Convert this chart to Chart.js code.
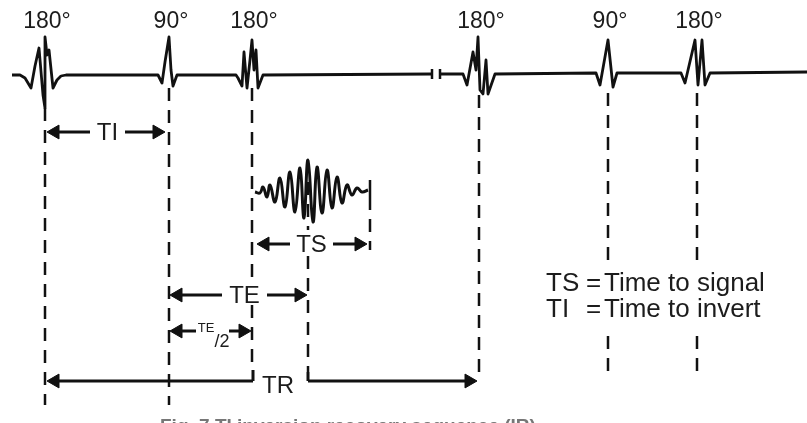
<!DOCTYPE html>
<html>
<head>
<meta charset="utf-8">
<script src="https://cdn.jsdelivr.net/npm/chart.js@4.4.1/dist/chart.umd.min.js"></script>
<style>
  html, body { margin: 0; background: #fff; }
  #wrap { width: 807px; height: 423px; }
</style>
</head>
<body>
<div id="wrap"><canvas id="myChart"></canvas></div>
<script>
// time axis runs 0..807, vertical axis 0..423 (top down)
const pulseTimes = [45, 169, 252, 479, 608, 697];
const pulseAngles = ["180°", "90°", "180°", "180°", "90°", "180°"];

// RF line, before and after the time break
const rfBefore = [
  [12, 75], [20, 75], [25, 78], [31, 88], [35, 66], [39, 48], [43, 95], [45, 108], [45, 37],
  [47, 55], [49, 50], [53, 88], [57, 80], [61, 76], [66, 75], [158, 75], [162, 83],
  [165, 62], [169, 37], [171, 70], [173, 86], [177, 75], [236, 75], [238, 78], [242, 86],
  [244, 52], [247, 88], [250, 60], [252, 40], [254, 70], [256, 50], [258, 88], [263, 75],
  [432, 74]
];
const rfAfter = [
  [440, 74], [463, 74], [467, 85], [473, 52], [476, 70], [478, 37], [480, 90], [483, 94],
  [486, 60], [488, 94], [495, 74], [596, 73], [600, 85], [608, 40], [613, 87], [617, 73],
  [681, 73], [685, 83], [695, 40], [698, 85], [702, 40], [705, 85], [710, 73], [807, 72]
];

// echo signal
const echo = [
  [255, 192], [260, 193], [263, 187], [267, 197], [270, 185], [275, 202], [280, 178],
  [285, 207], [290, 172], [295, 212], [300, 168], [304, 218], [308, 160], [313, 222],
  [317, 167], [322, 213], [327, 170], [332, 208], [337, 177], [342, 203], [347, 185],
  [352, 195], [357, 188], [362, 192], [368, 190]
];

// dashed timing lines: time, from, to
const markerTimes = [45, 169, 252, 252, 308, 308, 370, 479, 608, 608, 697, 697];
const markerFrom = [108, 88, 88, 305, 160, 256, 197, 95, 93, 336, 93, 336];
const markerTo = [405, 405, 283, 370, 230, 372, 250, 378, 260, 380, 260, 380];

// intervals
const intervalNames = ["TI", "TS", "TE", "TE/2", "TR"];
const intervalStart = [47, 257, 170, 170, 47];
const intervalEnd = [165, 367, 307, 251, 477];

const legendKeys = ["TS", "TI"];
const legendTexts = ["Time to signal", "Time to invert"];

// layout
const rowY = [132, 244, 295, 331, 381];
const textGap = [[90, 125], [290, 333], [222, 267], [196, 229], [253, 308]];
const headR = 8;
const ink = "#111";
const font = '"Liberation Sans", Arial, sans-serif';

const toPts = arr => arr.map(p => ({ x: p[0], y: p[1] }));

function lineSet(points, extra) {
  return Object.assign({
    data: points,
    showLine: true,
    borderColor: ink,
    borderWidth: 2.5,
    pointRadius: 0,
    tension: 0,
    fill: false
  }, extra || {});
}

const datasets = [];
datasets.push(lineSet(toPts(rfBefore), { borderJoinStyle: "round", borderWidth: 2.8 }));
datasets.push(lineSet(toPts(rfAfter), { borderJoinStyle: "round", borderWidth: 2.8 }));
// break ticks
[432, 440].forEach(t => datasets.push(lineSet([{ x: t, y: 69 }, { x: t, y: 79 }])));
datasets.push(lineSet(toPts(echo), { tension: 0.45, borderWidth: 3 }));
// end tick of echo
datasets.push(lineSet([{ x: 370, y: 180 }, { x: 370, y: 197 }]));

markerTimes.forEach((t, i) => {
  datasets.push(lineSet([{ x: t, y: markerFrom[i] }, { x: t, y: markerTo[i] }], { borderDash: [13, 9] }));
});

// interval arrows
const heads = [];
const headRot = [];
intervalNames.forEach((n, i) => {
  const y = rowY[i];
  const a = intervalStart[i], b = intervalEnd[i];
  datasets.push(lineSet([{ x: a + 3, y: y }, { x: textGap[i][0], y: y }], { borderWidth: 3 }));
  datasets.push(lineSet([{ x: textGap[i][1], y: y }, { x: b - 3, y: y }], { borderWidth: 3 }));
  heads.push({ x: a + headR, y: y }); headRot.push(-90);
  heads.push({ x: b - headR, y: y }); headRot.push(90);
});
// TR kinks
datasets.push(lineSet([{ x: 253, y: 370 }, { x: 253, y: 381 }], { borderWidth: 3 }));
datasets.push(lineSet([{ x: 308, y: 372 }, { x: 308, y: 381 }], { borderWidth: 3 }));

datasets.push({
  data: heads,
  showLine: false,
  pointStyle: "triangle",
  pointRadius: headR,
  pointRotation: headRot,
  backgroundColor: ink,
  borderColor: ink,
  borderWidth: 1
});

const textPlugin = {
  id: "texts",
  afterDatasetsDraw(chart) {
    const { ctx, scales: { x, y } } = chart;
    const px = v => x.getPixelForValue(v);
    const py = v => y.getPixelForValue(v);
    ctx.save();
    ctx.fillStyle = "#1c1c1c";
    ctx.textBaseline = "middle";
    ctx.textAlign = "center";

    ctx.font = "23px " + font;
    pulseTimes.forEach((t, i) => ctx.fillText(pulseAngles[i], px(t + 2), py(22)));

    ctx.font = "24px " + font;
    intervalNames.forEach((n, i) => {
      const cx = (textGap[i][0] + textGap[i][1]) / 2;
      if (n === "TE/2") {
        ctx.font = "13px " + font;
        ctx.fillText("TE", px(206), py(328));
        ctx.font = "18px " + font;
        ctx.fillText("/2", px(222), py(342));
        ctx.font = "24px " + font;
      } else if (n === "TR") {
        ctx.fillText(n, px(278), py(386));
      } else {
        ctx.fillText(n, px(cx), py(rowY[i] + 1));
      }
    });

    ctx.font = "26px " + font;
    ctx.textAlign = "left";
    legendKeys.forEach((k, i) => {
      const ly = py(284 + i * 26);
      ctx.fillText(k, px(546), ly);
      ctx.fillText("=", px(586), ly);
      ctx.fillText(legendTexts[i], px(604), ly);
    });

    // caption, cut off at the bottom edge
    ctx.fillStyle = "#777";
    ctx.font = "bold 19px " + font;
    ctx.textAlign = "left";
    ctx.textBaseline = "top";
    ctx.fillText("Fig. 7 TI inversion recovery sequence (IR)", px(160), py(417));
    ctx.restore();
  }
};

new Chart(document.getElementById("myChart"), {
  type: "scatter",
  data: { datasets: datasets },
  options: {
    responsive: true,
    maintainAspectRatio: false,
    animation: false,
    events: [],
    layout: { padding: 0, autoPadding: false },
    plugins: { legend: { display: false }, tooltip: { enabled: false } },
    scales: {
      x: { type: "linear", min: 0, max: 807, display: false },
      y: { type: "linear", min: 0, max: 423, reverse: true, display: false }
    }
  },
  plugins: [textPlugin]
});
</script>
</body>
</html>
